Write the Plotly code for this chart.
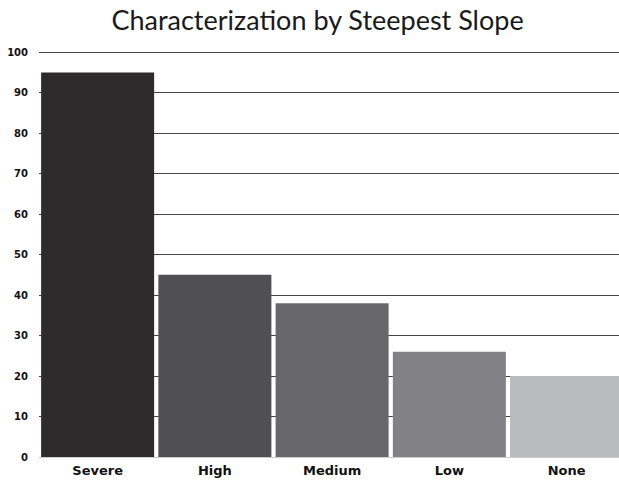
import plotly.graph_objects as go

categories = ["Severe", "High", "Medium", "Low", "None"]
values = [95, 45, 38, 26, 20]
colors = ["#2d2b2c", "#505052", "#68686a", "#828286", "#b9babc"]
tick_vals = list(range(0, 101, 10))

fig = go.Figure(go.Bar(x=categories, y=values, marker=dict(color=colors, line=dict(width=0))))

fig.update_layout(
    width=619, height=481,
    margin=dict(l=39, r=0, t=51, b=24),
    paper_bgcolor="white", plot_bgcolor="white",
    bargap=0.036,
    showlegend=False,
    title=dict(text="Characterization by Steepest Slope", x=0.513, xanchor="center",
               y=0.957, yanchor="middle",
               font=dict(family="Lato", size=27, color="#1a1a1a")),
)
fig.update_yaxes(range=[0, 100.3], tickvals=tick_vals, showgrid=True, gridcolor="#444444",
                 gridwidth=1.2, zeroline=True, zerolinecolor="#cccccc", zerolinewidth=1,
                 tickfont=dict(family="DejaVu Sans", size=10, color="#111", weight="bold"),
                 ticklabelstandoff=10, fixedrange=True)
fig.update_xaxes(range=[-0.5, 4.447], showgrid=False, showline=False,
                 tickfont=dict(family="DejaVu Sans", size=13, color="#111", weight="bold"),
                 ticklabelstandoff=4, fixedrange=True)

fig.write_html("out.html", config={"displayModeBar": False},
               post_script="document.body.style.margin='0';")
